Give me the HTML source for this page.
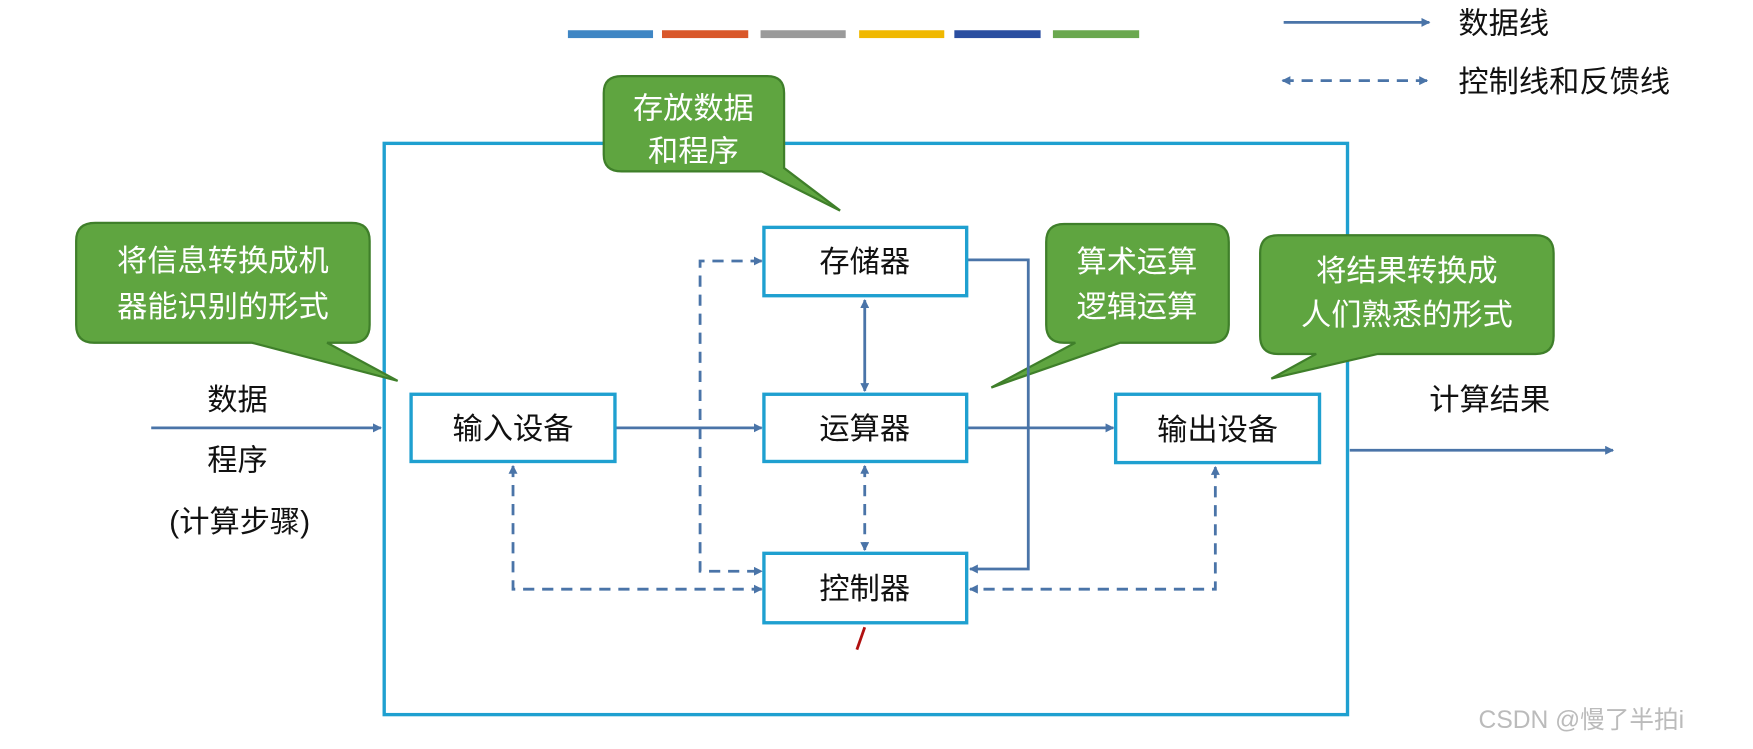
<!DOCTYPE html>
<html><head><meta charset="utf-8"><style>
html,body{margin:0;padding:0;background:#fff;}
svg{display:block;}
text{font-family:"Liberation Sans","Noto Sans CJK SC",sans-serif;}
</style></head><body>
<svg width="1753" height="749" viewBox="0 0 1565 668.7" preserveAspectRatio="none" xmlns="http://www.w3.org/2000/svg">
<defs>
<marker id="a" markerWidth="8" markerHeight="8" refX="7" refY="4" orient="auto" markerUnits="userSpaceOnUse"><path d="M0,0 L8,4 L0,8 z" fill="#4a74a8"/></marker>
<marker id="as" markerWidth="8" markerHeight="8" refX="1" refY="4" orient="auto" markerUnits="userSpaceOnUse"><path d="M8,0 L0,4 L8,8 z" fill="#4a74a8"/></marker>
</defs>
<g>
<rect x="507" y="27" width="76" height="7" fill="#3f86c4"/>
<rect x="591" y="27" width="77" height="7" fill="#d9572a"/>
<rect x="679" y="27" width="76" height="7" fill="#9a9a9a"/>
<rect x="767" y="27" width="76" height="7" fill="#f0b800"/>
<rect x="852" y="27" width="77" height="7" fill="#2a4ea0"/>
<rect x="940" y="27" width="77" height="7" fill="#6aa84f"/>
</g>
<line x1="1146" y1="20" x2="1276" y2="20" stroke="#4a74a8" stroke-width="2.5" marker-end="url(#a)"/>
<text x="1302" y="30" font-size="27" fill="#111">数据线</text>
<line x1="1145" y1="72" x2="1274" y2="72" stroke="#4a74a8" stroke-width="2.5" stroke-dasharray="10,7" marker-start="url(#as)" marker-end="url(#a)"/>
<text x="1302" y="82" font-size="27" fill="#111">控制线和反馈线</text>
<rect x="343" y="128" width="860" height="510" fill="none" stroke="#1fa0d0" stroke-width="3"/>
<g fill="#5fa540" stroke="#3f7f2a" stroke-width="2">
<path d="M555,68 H685 Q700,68 700,83 V150 L750,188 L680,153 H555 Q539,153 539,138 V83 Q539,68 555,68 Z"/>
<path d="M85,199 H314 Q330,199 330,215 V290 Q330,306 314,306 H292 L355,340 L225,306 H84 Q68,306 68,290 V215 Q68,199 85,199 Z"/>
<path d="M950,200 H1081 Q1097,200 1097,216 V290 Q1097,306 1081,306 H1000 L885,346 L960,306 H950 Q934,306 934,290 V216 Q934,200 950,200 Z"/>
<path d="M1141,210 H1371 Q1387,210 1387,226 V300 Q1387,316 1371,316 H1230 L1135,338 L1175,316 H1141 Q1125,316 1125,300 V226 Q1125,210 1141,210 Z"/>
</g>
<g fill="#fff" font-size="27" text-anchor="middle">
<text x="619" y="106">存放数据</text>
<text x="619" y="144">和程序</text>
<text x="199" y="242">将信息转换成机</text>
<text x="199" y="283">器能识别的形式</text>
<text x="1015" y="243">算术运算</text>
<text x="1015" y="283">逻辑运算</text>
<text x="1256" y="251">将结果转换成</text>
<text x="1256" y="290">人们熟悉的形式</text>
</g>
<g font-size="27" fill="#111" text-anchor="middle">
<text x="212" y="366">数据</text>
<text x="212" y="420">程序</text>
<text x="214" y="475">(计算步骤)</text>
<text x="1330" y="366">计算结果</text>
</g>
<line x1="135" y1="382" x2="340" y2="382" stroke="#4a74a8" stroke-width="2.5" marker-end="url(#a)"/>
<line x1="1205" y1="402" x2="1440" y2="402" stroke="#4a74a8" stroke-width="2.5" marker-end="url(#a)"/>
<g stroke="#4a74a8" stroke-width="2.5" fill="none">
<line x1="549" y1="382" x2="680" y2="382" marker-end="url(#a)"/>
<line x1="863" y1="382" x2="994" y2="382" marker-end="url(#a)"/>
<polyline points="863,232 918,232 918,508 866,508" marker-end="url(#a)"/>
<line x1="772" y1="268" x2="772" y2="349" marker-start="url(#as)" marker-end="url(#a)"/>
</g>
<g stroke="#4a74a8" stroke-width="2.5" fill="none" stroke-dasharray="10,7">
<line x1="772" y1="416" x2="772" y2="491" marker-start="url(#as)" marker-end="url(#a)"/>
<polyline points="680,233 625,233 625,510 680,510" marker-start="url(#as)" marker-end="url(#a)"/>
<polyline points="458,416 458,526 680,526" marker-start="url(#as)" marker-end="url(#a)"/>
<polyline points="1085,417 1085,526 866,526" marker-start="url(#as)" marker-end="url(#a)"/>
</g>
<g fill="#fff" stroke="#1fa0d0" stroke-width="3">
<rect x="682" y="203" width="181" height="61"/>
<rect x="682" y="352" width="181" height="60"/>
<rect x="682" y="494" width="181" height="62"/>
<rect x="367" y="352" width="182" height="60"/>
<rect x="996" y="352" width="182" height="61"/>
</g>
<g font-size="27" fill="#111" text-anchor="middle">
<text x="772" y="243">存储器</text>
<text x="772" y="392">运算器</text>
<text x="772" y="535">控制器</text>
<text x="458" y="392">输入设备</text>
<text x="1087" y="393">输出设备</text>
</g>
<path d="M772,560 L765,580" stroke="#b01010" stroke-width="2.5"/>
<text x="1320" y="650" font-size="22" fill="#bbb">CSDN @慢了半拍i</text>
</svg>
</body></html>
